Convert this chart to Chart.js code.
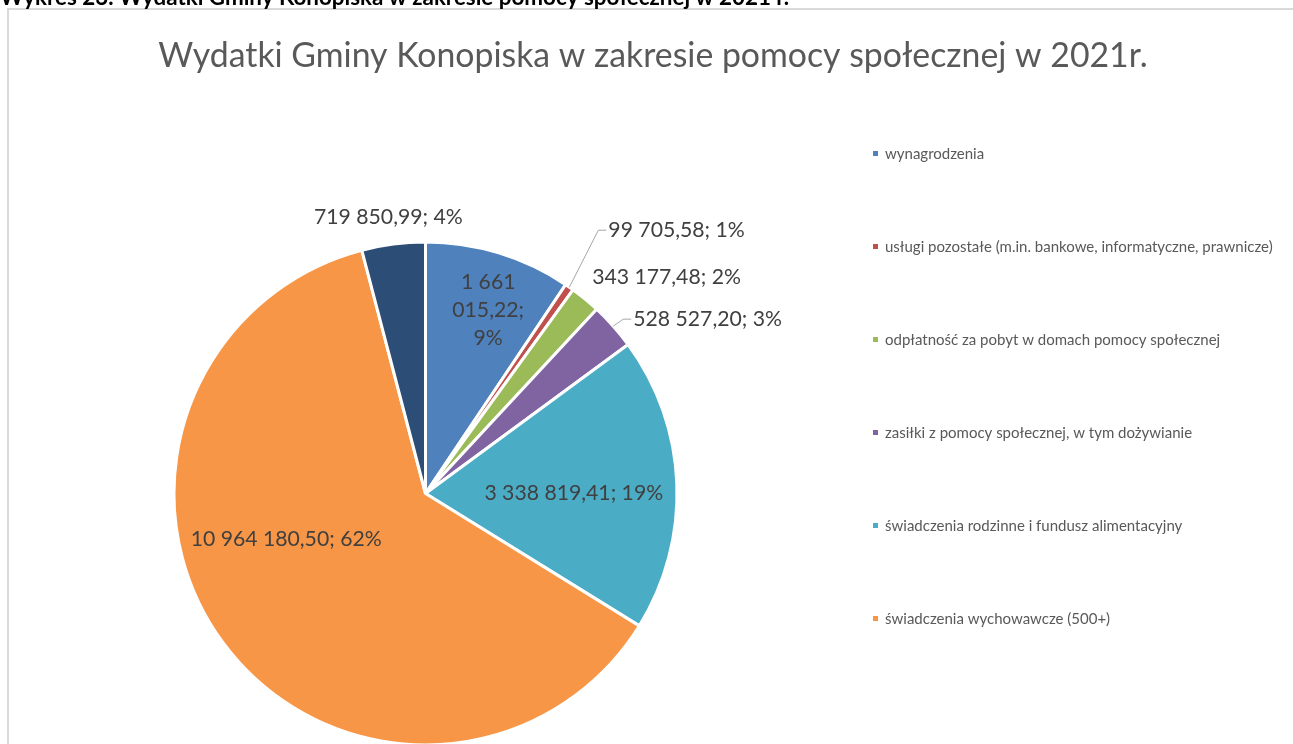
<!DOCTYPE html>
<html lang="pl">
<head>
<meta charset="utf-8">
<title>Wydatki Gminy Konopiska 2021</title>
<script src="https://cdn.jsdelivr.net/npm/chart.js@4.4.1/dist/chart.umd.min.js"></script>
<style>
  html, body { margin: 0; padding: 0; background: #fff; overflow: hidden; }
  #wrap { position: relative; width: 1293px; height: 744px; }
</style>
</head>
<body>
<div id="wrap"><canvas id="pieChart"></canvas></div>
<script>
const heading = "Wykres 23. Wydatki Gminy Konopiska w zakresie pomocy społecznej w 2021 r.";
const chartTitle = "Wydatki Gminy Konopiska w zakresie pomocy społecznej w 2021r.";

const categories = [
    "wynagrodzenia",
    "usługi pozostałe (m.in. bankowe, informatyczne, prawnicze)",
    "odpłatność za pobyt w domach pomocy społecznej",
    "zasiłki z pomocy społecznej, w tym dożywianie",
    "świadczenia rodzinne i fundusz alimentacyjny",
    "świadczenia wychowawcze (500+)",
    ""  // brak w legendzie
];
const amounts = [1661015.22, 99705.58, 343177.48, 528527.20, 3338819.41, 10964180.50, 719850.99];
const sliceColors = ["#4f81bd", "#c0504d", "#9bbb59", "#8064a2", "#4bacc6", "#f79646", "#2c4d75"];

// rozmieszczenie etykiet (r - ułamek promienia, dx/dy w px)
const labelPlacement = [
    { r: 0.76, dx: 7, dy: 0, align: "center", wrap: 85 },
    { r: 1.0, dx: 39, dy: -57, align: "left", leader: true },
    { r: 1.0, dx: 7, dy: -22, align: "left" },
    { r: 1.0, dx: 20, dy: -7, align: "left", leader: true },
    { r: 0.59, dx: 0, dy: 6, align: "center" },
    { r: 0.585, dx: -21, dy: -42, align: "center" },
    { r: 1.0, dx: -5, dy: -27, align: "center" }
];

const FONT = "Lato, 'Open Sans', sans-serif";
const total = amounts.reduce((a, b) => a + b, 0);

function formatPL(v) {
    const [int, dec] = v.toFixed(2).split(".");
    return int.replace(/\B(?=(\d{3})+(?!\d))/g, " ") + "," + dec;
}

function wrapText(ctx, text, maxW) {
    if (!maxW) return [text];
    const words = text.split(" ");
    const lines = [];
    let line = words[0];
    for (let i = 1; i < words.length; i++) {
        const test = line + " " + words[i];
        if (ctx.measureText(test).width > maxW) {
            lines.push(line);
            line = words[i];
        } else {
            line = test;
        }
    }
    lines.push(line);
    return lines;
}

const decorPlugin = {
    id: "decor",
    beforeDraw(chart) {
        const ctx = chart.ctx;
        ctx.save();
        // ramka wykresu
        ctx.strokeStyle = "#d9d9d9";
        ctx.lineWidth = 2;
        ctx.strokeRect(8, 9, chart.width + 20, chart.height + 20);
        // ucięty nagłówek dokumentu
        ctx.fillStyle = "#000";
        ctx.font = "bold 22.4px " + FONT;
        ctx.textAlign = "left";
        ctx.textBaseline = "alphabetic";
        ctx.fillText(heading, 0, 5);
        // tytuł
        ctx.fillStyle = "#595959";
        ctx.font = "33.8px " + FONT;
        ctx.textAlign = "center";
        ctx.textBaseline = "middle";
        ctx.fillText(chartTitle, 653, 56);
        // legenda
        ctx.font = "15px " + FONT;
        ctx.textAlign = "left";
        let row = 0;
        categories.forEach((name, i) => {
            if (!name) return;
            const y = 154 + row * 93;
            ctx.fillStyle = sliceColors[i];
            ctx.fillRect(873, y - 3, 5, 5);
            ctx.fillStyle = "#595959";
            ctx.fillText(name, 885, y);
            row++;
        });
        ctx.restore();
    },
    afterDatasetsDraw(chart) {
        const ctx = chart.ctx;
        const meta = chart.getDatasetMeta(0);
        ctx.save();
        ctx.font = "21.2px " + FONT;
        ctx.fillStyle = "#404040";
        ctx.textBaseline = "middle";
        meta.data.forEach((arc, i) => {
            const p = labelPlacement[i];
            const { x, y, startAngle, endAngle, outerRadius } = arc.getProps(["x", "y", "startAngle", "endAngle", "outerRadius"], true);
            const mid = (startAngle + endAngle) / 2;
            const ex = x + Math.cos(mid) * outerRadius * p.r;
            const ey = y + Math.sin(mid) * outerRadius * p.r;
            const ax = ex + p.dx;
            const ay = ey + p.dy;
            const v = amounts[i];
            const text = formatPL(v) + "; " + Math.round(v / total * 100) + "%";
            if (p.leader) {
                ctx.strokeStyle = "#a6a6a6";
                ctx.lineWidth = 1;
                ctx.beginPath();
                ctx.moveTo(ex, ey);
                ctx.lineTo(ax - 10, ay);
                ctx.lineTo(ax - 2, ay);
                ctx.stroke();
            }
            ctx.textAlign = p.align;
            const lines = wrapText(ctx, text, p.wrap);
            const lh = 28;
            lines.forEach((ln, k) => {
                ctx.fillText(ln, ax, ay + (k - (lines.length - 1) / 2) * lh);
            });
        });
        ctx.restore();
    }
};

new Chart(document.getElementById("pieChart"), {
    type: "pie",
    data: {
        labels: categories,
        datasets: [{
            data: amounts,
            backgroundColor: sliceColors,
            borderColor: "#ffffff",
            borderWidth: 3
        }]
    },
    options: {
        responsive: true,
        maintainAspectRatio: false,
        animation: false,
        radius: 251.5,
        layout: {
            padding: { left: 0, right: 442, top: 243, bottom: 0 }
        },
        plugins: {
            legend: { display: false },
            title: { display: false },
            tooltip: { enabled: false }
        }
    },
    plugins: [decorPlugin]
});
</script>
</body>
</html>
